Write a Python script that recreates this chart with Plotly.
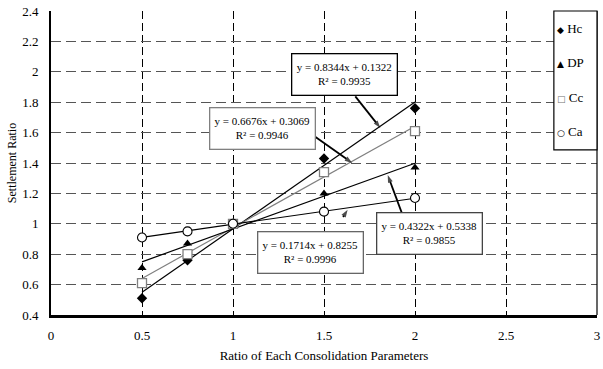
import plotly.graph_objects as go

# Measured settlement ratios for each consolidation parameter ratio
x_ratio = [0.5, 0.75, 1.0, 1.5, 2.0]
hc_values = [0.51, 0.76, 1.00, 1.43, 1.76]
dp_values = [0.71, 0.87, 1.00, 1.20, 1.37]
cc_values = [0.61, 0.80, 1.00, 1.34, 1.61]
ca_values = [0.91, 0.95, 1.00, 1.08, 1.17]

# Linear trendlines (slope, intercept, R^2)
hc_fit = (0.8344, 0.1322, 0.9935)
cc_fit = (0.6676, 0.3069, 0.9946)
dp_fit = (0.4322, 0.5338, 0.9855)
ca_fit = (0.1714, 0.8255, 0.9996)
fit_span = [0.5, 2.0]

x_ticks = [0, 0.5, 1, 1.5, 2, 2.5, 3]
y_ticks = [0.4, 0.6, 0.8, 1.0, 1.2, 1.4, 1.6, 1.8, 2.0, 2.2, 2.4]
series_names = ["Hc", "DP", "Cc", "Ca"]

FONT = "Liberation Serif"

fig = go.Figure()


def on_line(fit, x):
    a, b, _ = fit
    return a * x + b


# trendlines
for fit, color in [(hc_fit, "black"), (cc_fit, "#808080"), (dp_fit, "black"), (ca_fit, "black")]:
    fig.add_trace(go.Scatter(x=fit_span, y=[on_line(fit, x) for x in fit_span], mode="lines",
                             line=dict(color=color, width=1.2), showlegend=False, hoverinfo="skip"))

# data markers
marker_styles = {
    "Hc": dict(symbol="diamond", size=8, color="black", line=dict(width=0)),
    "DP": dict(symbol="triangle-up", size=8, color="black", line=dict(width=0)),
    "Cc": dict(symbol="square", size=9, color="white", line=dict(width=1.3, color="#808080")),
    "Ca": dict(symbol="circle", size=9, color="white", line=dict(width=1.1, color="black")),
}
for name, vals in zip(series_names, [hc_values, dp_values, cc_values, ca_values]):
    fig.add_trace(go.Scatter(x=x_ratio, y=vals, mode="markers", name=name,
                             marker=marker_styles[name], showlegend=False))

# pointer arrows from each equation box to its trendline: (fit, tail x, tail y, head x)
pointers = [
    (hc_fit, 1.672, 1.838, 1.81),
    (cc_fit, 1.434, 1.588, 1.655),
    (dp_fit, 1.928, 1.070, 1.85),
    (ca_fit, 1.605, 1.045, 1.63),
]
for fit, tx, ty, hx in pointers:
    fig.add_trace(go.Scatter(
        x=[tx, hx], y=[ty, on_line(fit, hx) - 0.012], mode="lines+markers",
        line=dict(color="black", width=1.8),
        marker=dict(symbol=["circle", "arrow"], size=[0, 8], color="black",
                    angleref="previous", line=dict(width=0)),
        showlegend=False, hoverinfo="skip"))


def eq_text(fit):
    a, b, r2 = fit
    return f"y = {a:.4f}x + {b:.4f}<br>R\u00b2 = {r2:.4f}"


annotations = []
# equation boxes: (fit, box centre x, box centre y, border colour)
boxes = [
    (hc_fit, 1.611, 1.982, "black"),
    (cc_fit, 1.162, 1.627, "#808080"),
    (dp_fit, 2.082, 0.933, "#444444"),
    (ca_fit, 1.425, 0.811, "#666666"),
]
for fit, bx, by, bc in boxes:
    annotations.append(dict(x=bx, y=by, xref="x", yref="y", text=eq_text(fit), showarrow=False,
                            font=dict(family=FONT, size=11, color="black"), align="center",
                            bgcolor="white", bordercolor=bc, borderwidth=1.3, borderpad=3,
                            width=98, height=34))

# legend panel
legend_glyphs = {"Hc": "\u25C6", "DP": "\u25B2", "Cc": "\u25A1", "Ca": "\u25CB"}
legend_colors = {"Hc": "black", "DP": "black", "Cc": "#707070", "Ca": "black"}
legend_y = [0.944, 0.832, 0.714, 0.602]
for name, ly in zip(series_names, legend_y):
    annotations.append(dict(x=0.9235, y=ly, xref="paper", yref="paper", xanchor="left",
                            yanchor="middle", showarrow=False,
                            text=f"<span style='color:{legend_colors[name]};font-family:DejaVu Sans;font-size:9px'>{legend_glyphs[name]}</span> {name}",
                            font=dict(family=FONT, size=13, color="black")))

shapes = [
    # right frame edge
    dict(type="line", xref="paper", yref="paper", x0=1, x1=1, y0=0, y1=1,
         line=dict(color="black", width=1.2)),
    # legend frame
    dict(type="rect", xref="paper", yref="paper", x0=0.921, x1=1.0, y0=0.543, y1=1.0,
         line=dict(color="black", width=1.2), fillcolor="white", layer="above"),
]

fig.update_layout(
    width=603, height=369,
    margin=dict(l=51, r=3, t=11, b=54),
    paper_bgcolor="white", plot_bgcolor="white",
    font=dict(family=FONT, size=13, color="black"),
    annotations=annotations,
    shapes=shapes,
    showlegend=False,
)
fig.update_xaxes(range=[0, 3], tickvals=x_ticks, ticktext=[f"{t:g}" for t in x_ticks],
                 tickfont=dict(family=FONT, size=13), ticklabeloverflow="allow",
                 showgrid=True, gridcolor="black", griddash="8px,4px", gridwidth=1.1,
                 showline=True, linecolor="black", linewidth=2.5, ticks="",
                 ticklabelstandoff=7, zeroline=False,
                 title=dict(text="Ratio of Each Consolidation Parameters",
                            font=dict(family=FONT, size=13), standoff=9))
fig.update_yaxes(range=[0.4, 2.4], tickvals=y_ticks, ticktext=[f"{t:g}" for t in y_ticks],
                 tickfont=dict(family=FONT, size=13),
                 showgrid=True, gridcolor="#555555", griddash="10px,5px", gridwidth=1.3,
                 showline=True, linecolor="black", linewidth=2, ticks="",
                 ticklabelstandoff=8, zeroline=False,
                 title=dict(text="Settlement Ratio", font=dict(family=FONT, size=12), standoff=3))

fig.write_html("out.html")
